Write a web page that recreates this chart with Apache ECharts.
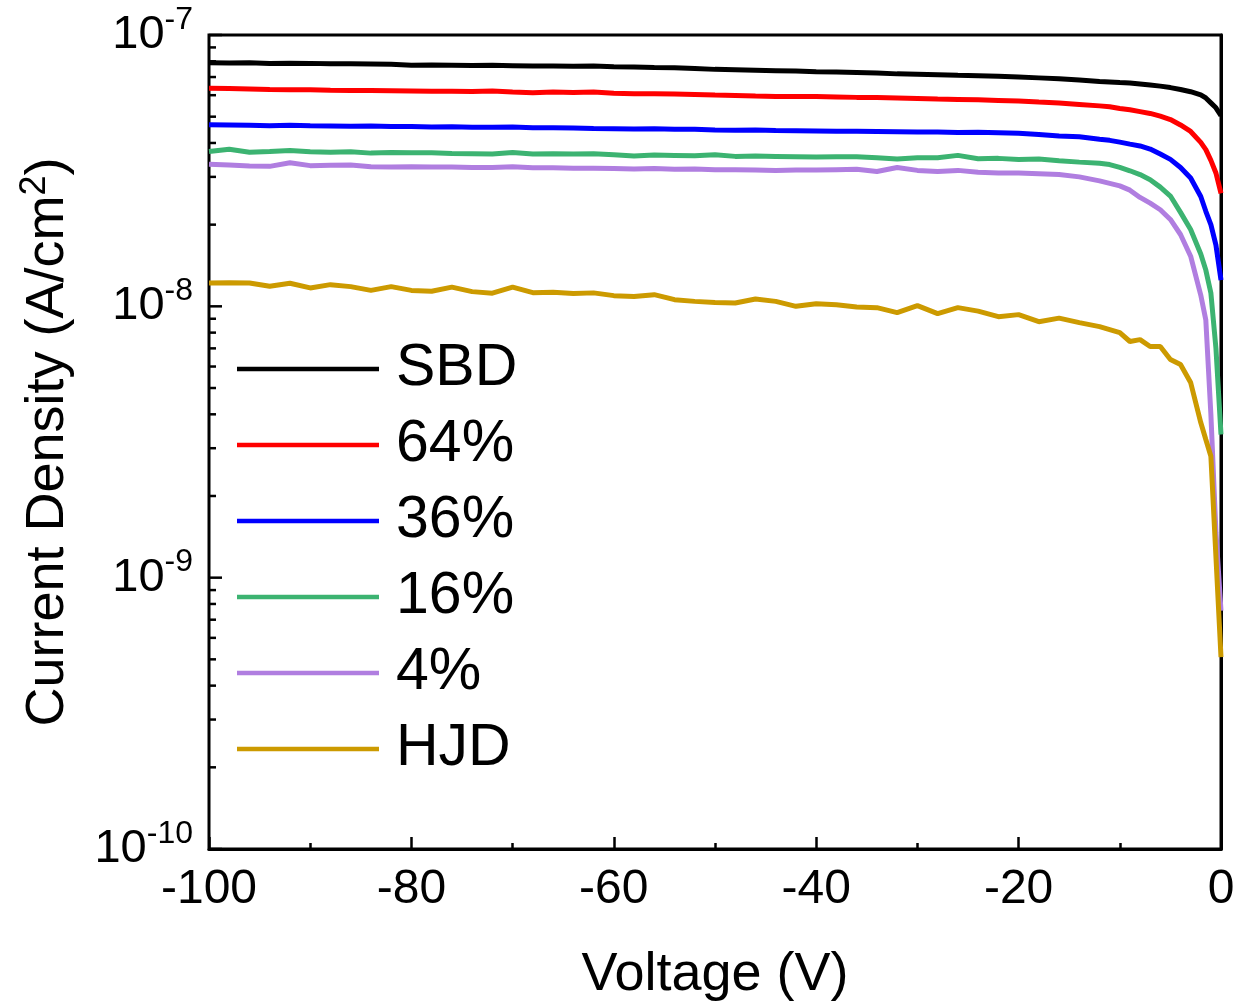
<!DOCTYPE html>
<html><head><meta charset="utf-8">
<script src="https://cdn.jsdelivr.net/npm/echarts@6/dist/echarts.min.js"></script>
<style>html,body{margin:0;padding:0;background:#fff}#c{width:1242px;height:1007px}</style>
</head><body><div id="c"></div>
<script>
// Voltage (V) sample points shared by all curves
const voltage = [-100,-98,-96,-94,-92,-90,-88,-86,-84,-82,-80,-78,-76,-74,-72,-70,-68,-66,-64,-62,
  -60,-58,-56,-54,-52,-50,-48,-46,-44,-42,-40,-38,-36,-34,-32,-30,-28,-26,-24,-22,
  -20,-18,-16,-14,-12,-11,-10,-9,-8,-7,-6,-5,-4,-3,-2,-1.5,-1,-0.5,0];
// Current density values in units of 1e-8 A/cm^2
const UNIT = 1e-8;
const sbd = [7.91,7.89,7.91,7.85,7.87,7.86,7.83,7.84,7.82,7.80,
  7.74,7.76,7.74,7.72,7.73,7.71,7.68,7.69,7.67,7.69,
  7.64,7.62,7.59,7.57,7.53,7.47,7.45,7.42,7.39,7.36,
  7.32,7.30,7.27,7.24,7.19,7.16,7.13,7.10,7.08,7.05,
  7.00,6.95,6.90,6.83,6.74,
  6.71,6.68,6.66,6.60,6.54,6.48,6.40,6.30,6.18,6.02,
  5.86,5.62,5.39,5.04];
const p64 = [6.37,6.35,6.33,6.30,6.29,6.28,6.26,6.25,6.24,6.23,
  6.22,6.21,6.20,6.19,6.22,6.17,6.13,6.16,6.14,6.17,
  6.10,6.08,6.07,6.06,6.04,6.01,5.99,5.96,5.94,5.93,
  5.93,5.91,5.89,5.88,5.86,5.84,5.81,5.79,5.77,5.74,
  5.71,5.66,5.62,5.55,5.48,
  5.44,5.36,5.30,5.22,5.14,5.02,4.88,4.66,4.41,4.02,
  3.78,3.45,3.10,2.61];
const p36 = [4.67,4.66,4.65,4.63,4.65,4.63,4.62,4.61,4.62,4.60,
  4.60,4.58,4.59,4.57,4.57,4.58,4.55,4.55,4.54,4.52,
  4.51,4.50,4.51,4.49,4.49,4.47,4.46,4.47,4.45,4.44,
  4.43,4.42,4.42,4.41,4.40,4.39,4.39,4.37,4.38,4.36,
  4.34,4.30,4.24,4.22,4.13,
  4.09,4.03,3.96,3.90,3.80,3.64,3.48,3.25,2.97,2.54,
  2.24,2.00,1.68,1.25];
const p16 = [3.72,3.79,3.70,3.72,3.75,3.71,3.70,3.71,3.67,3.69,
  3.68,3.68,3.66,3.65,3.64,3.69,3.64,3.65,3.64,3.65,
  3.62,3.58,3.61,3.60,3.59,3.62,3.57,3.58,3.57,3.56,
  3.55,3.56,3.56,3.53,3.49,3.53,3.53,3.60,3.50,3.51,
  3.48,3.49,3.44,3.40,3.37,
  3.33,3.25,3.16,3.06,2.93,2.75,2.55,2.22,1.92,1.56,
  1.36,1.12,0.70,0.337];
const p4 = [3.34,3.32,3.29,3.28,3.38,3.30,3.31,3.32,3.27,3.26,
  3.27,3.26,3.26,3.25,3.25,3.27,3.24,3.24,3.23,3.23,
  3.22,3.21,3.22,3.20,3.21,3.19,3.19,3.18,3.17,3.18,
  3.18,3.19,3.20,3.14,3.25,3.17,3.14,3.17,3.12,3.10,
  3.10,3.08,3.06,3.00,2.90,
  2.84,2.78,2.68,2.52,2.40,2.27,2.09,1.84,1.53,1.10,
  0.89,0.40,0.147,0.0755];
const hjd = [1.219,1.222,1.219,1.185,1.217,1.169,1.202,1.182,1.145,1.182,
  1.145,1.137,1.177,1.133,1.118,1.177,1.123,1.126,1.114,1.121,
  1.095,1.088,1.104,1.058,1.043,1.034,1.029,1.064,1.043,1.000,
  1.023,1.014,0.995,0.989,0.948,1.006,0.940,0.989,0.960,0.916,
  0.932,0.878,0.905,0.871,0.842,
  0.821,0.800,0.742,0.754,0.711,0.711,0.637,0.610,0.524,0.373,
  0.323,0.280,null,0.051];

const seriesNames = ['SBD', '64%', '36%', '16%', '4%', 'HJD'];
const seriesValues = [sbd, p64, p36, p16, p4, hjd];
const seriesColors = ['#000000', '#ff0000', '#0000ff', '#3cb371', '#b07ee0', '#cc9a00'];

// y axis decades (exponents of 10) and log minor-tick mantissas
const yTickExponents = [-10, -9, -8, -7];
const yMinorMantissas = [2, 3, 4, 5, 6, 7, 8, 9];

const FONT = '"Liberation Sans", Arial, sans-serif';

const chart = echarts.init(document.getElementById('c'), null, {renderer: 'canvas'});

const series = seriesNames.map((name, k) => ({
  name: name,
  type: 'line',
  symbol: 'none',
  connectNulls: true,
  lineStyle: {width: 5, color: seriesColors[k]},
  itemStyle: {color: seriesColors[k]},
  data: voltage.map((v, i) => [v, seriesValues[k][i] == null ? '-' : seriesValues[k][i] * UNIT])
}));

// y-axis ticks (major + log minor), drawn inside the left axis via the axis scale
const yTickData = [];
yTickExponents.forEach((e, idx) => {
  yTickData.push([-100, Math.pow(10, e), 13]);
  if (idx < yTickExponents.length - 1) {
    yMinorMantissas.forEach(m => yTickData.push([-100, m * Math.pow(10, e), 7]));
  }
});
series.push({
  type: 'custom',
  silent: true,
  clip: false,
  z: 10,
  encode: {x: 0, y: 1},
  data: yTickData,
  renderItem: function (params, api) {
    const p = api.coord([api.value(0), api.value(1)]);
    return {
      type: 'line',
      shape: {x1: p[0], y1: p[1], x2: p[0] + api.value(2), y2: p[1]},
      style: {stroke: '#000', lineWidth: 2.5}
    };
  }
});

chart.setOption({
  animation: false,
  backgroundColor: '#fff',
  grid: {left: 209, right: 21, top: 35, bottom: 157, show: true, borderColor: '#000', borderWidth: 3, backgroundColor: 'transparent'},
  legend: {
    orient: 'vertical', left: 232, top: 334,
    icon: 'rect', itemWidth: 142, itemHeight: 4.5, itemGap: 16,
    textStyle: {fontSize: 59, lineHeight: 60, color: '#000', fontFamily: FONT, padding: [0, 0, 0, 12]},
    data: seriesNames
  },
  xAxis: {
    type: 'value', min: -100, max: 0, interval: 20,
    name: 'Voltage (V)', nameLocation: 'middle', nameGap: 99,
    nameTextStyle: {fontSize: 54, color: '#000', fontFamily: FONT},
    axisLine: {lineStyle: {color: '#000', width: 3}},
    axisTick: {inside: true, length: 12, lineStyle: {color: '#000', width: 2.5}},
    minorTick: {show: true, splitNumber: 2, length: 6, lineStyle: {color: '#000', width: 2.5}},
    splitLine: {show: false},
    axisLabel: {fontSize: 48, color: '#000', fontFamily: FONT, margin: 17}
  },
  yAxis: {
    type: 'log', logBase: 10, min: 1e-10, max: 1e-7, splitNumber: 3,
    name: 'Current Density (A/cm{s|2})', nameLocation: 'middle', nameGap: 130,
    nameTextStyle: {fontSize: 54, color: '#000', fontFamily: FONT,
      rich: {s: {fontSize: 36, fontFamily: FONT, color: '#000', padding: [0, 0, 26, 0]}}},
    axisLine: {show: true, lineStyle: {color: '#000', width: 3}},
    axisTick: {show: false},
    minorTick: {show: false},
    splitLine: {show: false},
    axisLabel: {
      margin: 16, color: '#000', fontFamily: FONT,
      formatter: function (v) {
        const e = Math.round(Math.log10(v));
        return '{b|10}{s|' + e + '}';
      },
      rich: {
        b: {fontSize: 47, lineHeight: 50, fontFamily: FONT, color: '#000'},
        s: {fontSize: 32, lineHeight: 32, fontFamily: FONT, color: '#000', padding: [0, 0, 30, 0]}
      }
    }
  },
  series: series
});
</script>
</body></html>
